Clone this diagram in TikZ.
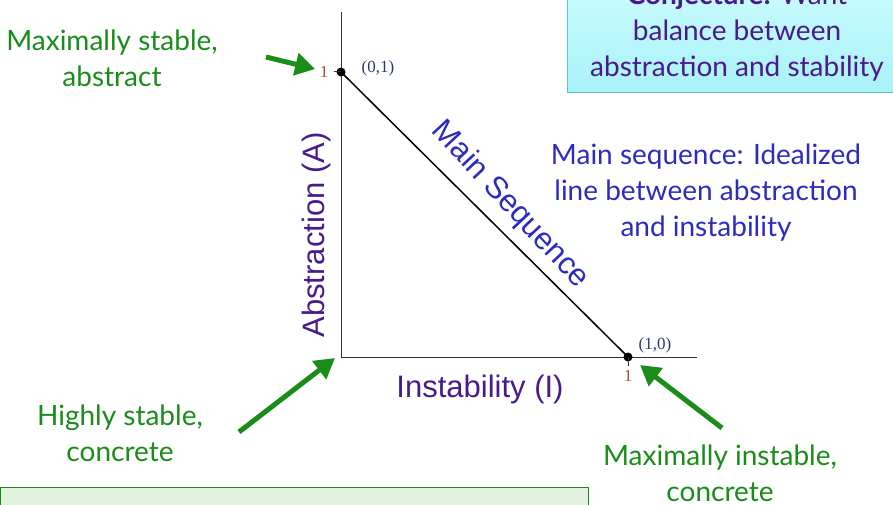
\documentclass[tikz,border=0pt]{standalone}
\usepackage{fontspec}
\setmainfont{Lato}
\newfontfamily\arialfont{Liberation Sans}
\newfontfamily\timesfont{Liberation Serif}
\usetikzlibrary{arrows.meta, positioning, calc}
\definecolor{msgreen}{HTML}{1A8C1A}
\definecolor{msblue}{HTML}{2B2BC0}
\definecolor{mspurple}{HTML}{4A1A8C}
\definecolor{msnavy}{HTML}{2A3A70}
\definecolor{msbrown}{HTML}{A0522D}
\definecolor{mscyan}{HTML}{CCFCFF}
\definecolor{mscyanb}{HTML}{A8F2F8}
\definecolor{msteal}{HTML}{58C8D0}
\definecolor{mslgreen}{HTML}{E2F2DE}
\tikzset{
  note/.style={font=\fontsize{28}{36}\selectfont, align=center},
  greenarrow/.style={msgreen, line width=5pt, -{Triangle[length=20pt, width=22pt]}},
  axislabel/.style={font=\arialfont\fontsize{31}{34}\selectfont, mspurple},
  coordlabel/.style={font=\timesfont\fontsize{17}{19}\selectfont, msnavy},
  ticklabel/.style={font=\timesfont\fontsize{17}{19}\selectfont, msbrown}
}
\begin{document}
\begin{tikzpicture}[x=1pt, y=-1pt]
  \useasboundingbox (0,0) rectangle (893,505);
  \clip (0,0) rectangle (893,505);
  % boxes at the edges
  \draw[msteal, line width=1pt, top color=mscyan, bottom color=mscyanb]
    (567,-20) rectangle (900,93);
  \node[note, mspurple] (conj) at (737,33)
    {\textbf{Conjecture:} Want\\balance between\\abstraction and stability};
  \draw[msgreen, line width=1pt, fill=mslgreen] (0,487) rectangle (588,530);
  % axes
  \coordinate (origin) at (341,357);
  \coordinate (ytop) at (341,12);
  \coordinate (xend) at (697,357);
  \draw[line width=1pt, black!80] (ytop) -- (origin) -- (xend);
  \node[circle, fill=black, inner sep=0pt, minimum size=9pt] (pa) at (341,72) {};
  \node[circle, fill=black, inner sep=0pt, minimum size=9pt] (pi) at (628,357) {};
  \draw[line width=1pt, black!80] (pa.center) -- ++(-7,0);
  \draw[line width=1pt, black!80] (pi.center) -- ++(0,9);
  \draw[line width=1.5pt] (pa.center) -- (pi.center);
  \node[ticklabel] (onea) at (324,72) {1};
  \node[ticklabel] (onei) at (628,376) {1};
  \node[coordlabel] (ca) at (378,68) {(0,1)};
  \node[coordlabel] (ci) at (655,345) {(1,0)};
  \node[axislabel, rotate=90] (ylab) at (316,235) {Abstraction (A)};
  \node[axislabel] (xlab) at (480,389) {Instability (I)};
  \node[axislabel, msblue, rotate=-47] (mseq) at (510,205) {Main Sequence};
  % descriptions
  \node[note, msblue] (desc) at (706,193)
    {Main sequence: Idealized\\line between abstraction\\and instability};
  \node[note, msgreen] (stab) at (112,58) {Maximally stable,\\abstract};
  \node[note, msgreen] (conc) at (120,433) {Highly stable,\\concrete};
  \node[note, msgreen] (inst) at (720,473) {Maximally instable,\\concrete};
  \coordinate (t1) at (266,57);
  \coordinate (t2) at (239,432);
  \coordinate (t3) at (722,428);
  \draw[greenarrow] (t1) -- ($(onea.west)+(-1,-3)$);
  \draw[greenarrow] (t2) -- ($(origin)+(-6,1)$);
  \draw[greenarrow] (t3) -- ($(pi)+(12,8)$);
\end{tikzpicture}
\end{document}
